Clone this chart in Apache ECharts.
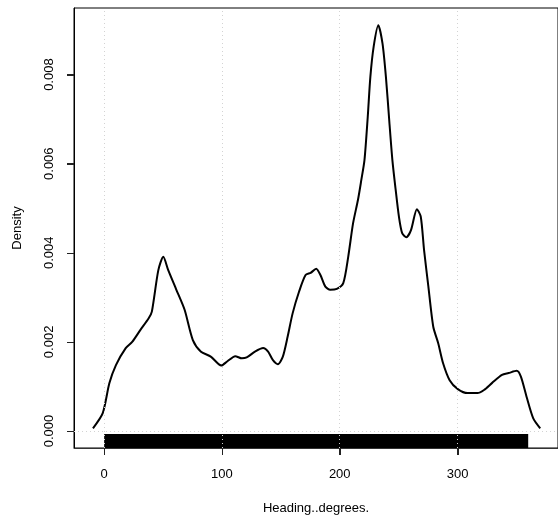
<!DOCTYPE html>
<html>
<head>
<meta charset="utf-8">
<script src="https://cdn.jsdelivr.net/npm/echarts@6/dist/echarts.min.js"></script>
<style>html,body{margin:0;padding:0;background:#fff;}#c{width:558px;height:523px;}</style>
</head>
<body>
<div id="c"></div>
<script>
// Density estimate of heading (degrees)
const headingX = [-9.5,-1.2,4.4,10,18.3,23.8,30.8,37.8,40.5,46,50.2,54.4,61.3,68.3,75.3,82.2,90.5,99.4,104.4,111.3,116.9,121,128,135,139.2,143.3,147.5,151.7,155.8,160,165.5,171,175.3,180,183.6,187.8,191.9,197.5,203,207.2,211.3,215.5,218.3,221,223.8,226,228.8,232.75,236.3,239.2,242,244.7,247.5,250.25,253,256.6,260.5,265.5,268.8,271.6,275.25,279.4,283.6,287.75,293.3,300.25,308.6,316.9,322.5,329.4,337.75,343.3,350.25,353.8,358.6,364.2,370.2];
const densityY = [0.00006,0.0004,0.00107,0.00148,0.00186,0.0020,0.00227,0.00253,0.00268,0.00361,0.00391,0.00361,0.00317,0.00272,0.00204,0.00178,0.00167,0.00147,0.00156,0.00168,0.00163,0.00165,0.00178,0.00186,0.00178,0.00159,0.0015,0.00167,0.00212,0.00264,0.00313,0.0035,0.00355,0.00364,0.0035,0.00324,0.00317,0.00319,0.00332,0.00391,0.00466,0.00519,0.00563,0.00608,0.00706,0.00795,0.00863,0.00911,0.0087,0.00795,0.00698,0.00608,0.00541,0.00481,0.00444,0.00435,0.00451,0.00498,0.00481,0.00406,0.00324,0.00234,0.00197,0.00152,0.00114,0.00094,0.00085,0.00085,0.00092,0.00108,0.00126,0.0013,0.00135,0.00122,0.00077,0.00029,0.00006];
const rugRange = [0, 360];
const xTicks = [0, 100, 200, 300];
const yTicks = [0, 0.002, 0.004, 0.006, 0.008];

const xMin = -25.6, xMax = 385.3, yMin = -0.000382, yMax = 0.009495;
const curve = headingX.map((x, i) => [x, densityY[i]]);
const font = 'Liberation Sans, Arial, Helvetica, sans-serif';
const chart = echarts.init(document.getElementById('c'), null, {renderer: 'canvas'});
const gridStyle = {color: '#d3d3d3', width: 1, type: [1, 3]};
const tickStyle = {stroke: '#000', lineWidth: 1.2};
chart.setOption({
  animation: false,
  grid: {left: 74, top: 8, width: 493, height: 440, show: true, borderColor: '#000', borderWidth: 1, backgroundColor: 'transparent'},
  xAxis: {
    type: 'value', min: xMin, max: xMax,
    name: 'Heading..degrees.', nameLocation: 'middle', nameGap: 54,
    nameTextStyle: {fontFamily: font, fontSize: 13, color: '#000'},
    axisLine: {show: true, onZero: false, lineStyle: {color: '#333', width: 1}},
    axisTick: {show: true, inside: false, length: 7, customValues: xTicks, lineStyle: {color: '#222', width: 1}},
    axisLabel: {customValues: xTicks, fontFamily: font, fontSize: 13, color: '#000', margin: 20},
    splitLine: {show: false}
  },
  yAxis: {
    type: 'value', min: yMin, max: yMax,
    name: 'Density', nameLocation: 'middle', nameGap: 50, nameRotate: 90,
    nameTextStyle: {fontFamily: font, fontSize: 13, color: '#000'},
    axisLine: {show: true, onZero: false, lineStyle: {color: '#000', width: 1}},
    axisTick: {show: true, inside: false, length: 7, customValues: yTicks, lineStyle: {color: '#222', width: 1}},
    axisLabel: {customValues: yTicks, rotate: 90, fontFamily: font, fontSize: 13, color: '#000', margin: 18,
      formatter: v => v.toFixed(3)},
    splitLine: {show: false}
  },
  series: [
    {
      type: 'custom', z: 1, silent: true,
      data: [[rugRange[0], rugRange[1]]],
      renderItem: function (params, api) {
        const p0 = api.coord([api.value(0), yMin]);
        const p1 = api.coord([api.value(1), yMin]);
        return {type: 'rect', shape: {x: p0[0], y: p0[1] - 14, width: p1[0] - p0[0], height: 14}, style: {fill: '#000'}};
      }
    },
    {
      type: 'line', z: 2, silent: true, data: [], symbol: 'none',
      markLine: {
        silent: true, symbol: 'none', label: {show: false}, lineStyle: gridStyle, animation: false,
        data: xTicks.map(v => ({xAxis: v})).concat(yTicks.map(v => ({yAxis: v})))
      }
    },
    {
      type: 'custom', z: 10, silent: true, clip: false,
      data: xTicks.map(v => [v, yMin]).concat(yTicks.map(v => [xMin, v])),
      renderItem: function (params, api) {
        const p = api.coord([api.value(0), api.value(1)]);
        if (params.dataIndex < xTicks.length) {
          return {type: 'rect', shape: {x: Math.round(p[0]), y: Math.round(p[1]), width: 1, height: 7}, style: {fill: '#222'}};
        }
        return {type: 'rect', shape: {x: Math.round(p[0]) - 7, y: Math.round(p[1]), width: 7, height: 1}, style: {fill: '#222'}};
      }
    },
    {
      type: 'line', z: 3, data: curve, symbol: 'none', smooth: 0.25,
      lineStyle: {color: '#000', width: 2}
    }
  ]
});
</script>
</body>
</html>
